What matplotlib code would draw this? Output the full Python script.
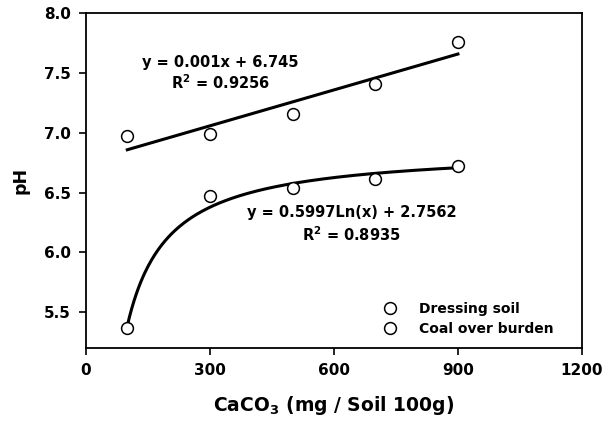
import numpy as np
import matplotlib
matplotlib.use("Agg")
import matplotlib.pyplot as plt

plt.rcParams['font.family'] = ['DejaVu Sans']
plt.rcParams['font.weight'] = 'bold'

# CaCO3 dose (mg / soil 100g) and measured pH
caco3 = [100, 300, 500, 700, 900]
ph_dressing = [6.97, 6.99, 7.16, 7.41, 7.76]
ph_coal = [5.37, 6.47, 6.54, 6.61, 6.72]

x_ticks = [0, 300, 600, 900, 1200]
y_ticks = [5.5, 6.0, 6.5, 7.0, 7.5, 8.0]

fig = plt.figure(figsize=(6.03, 4.23), dpi=100)
ax = fig.add_axes([0.1426, 0.177, 0.8224, 0.792])

x = np.array(caco3, dtype=float)
xs = np.linspace(100, 900, 300)

# linear trend for dressing soil
a, b = np.polyfit(x, ph_dressing, 1)
ax.plot(xs, a * xs + b, color='black', lw=2.2, zorder=2)

# saturating trend for coal over burden (the drawn curve follows
# y = A - B/x much closer than the printed ln fit)
k, d = np.polyfit(1.0 / x, ph_coal, 1)
ax.plot(xs, k / xs + d, color='black', lw=2.2, zorder=2)

ax.plot(caco3, ph_dressing, 'o', mfc='white', mec='black', mew=1.1,
        ms=8.5, label='Dressing soil', zorder=3)
ax.plot(caco3, ph_coal, 'o', mfc='white', mec='black', mew=1.1,
        ms=8.5, label='Coal over burden', zorder=3)

ax.text(325, 7.59, 'y = 0.001x + 6.745', ha='center', va='center',
        fontsize=10.5, fontweight='bold')
ax.text(325, 7.42, 'R$^\\mathbf{2}$ = 0.9256', ha='center', va='center',
        fontsize=10.5, fontweight='bold')
ax.text(643, 6.33, 'y = 0.5997Ln(x) + 2.7562', ha='center', va='center',
        fontsize=10.5, fontweight='bold')
ax.text(643, 6.15, 'R$^\\mathbf{2}$ = 0.8935', ha='center', va='center',
        fontsize=10.5, fontweight='bold')

leg = ax.legend(loc='lower right', frameon=False, fontsize=10,
                handletextpad=1.4, handlelength=1.5, borderaxespad=0.0,
                labelspacing=0.4, bbox_to_anchor=(0.955, 0.02))
for t in leg.get_texts():
    t.set_fontweight('bold')

ax.set_xlim(0, 1200)
ax.set_ylim(5.2, 8.0)
ax.set_xticks(x_ticks)
ax.set_yticks(y_ticks)
ax.set_yticklabels([f'{v:.1f}' for v in y_ticks])
ax.tick_params(direction='out', length=5, width=1.2, labelsize=11,
               top=False, right=False, pad=6)
for s in ax.spines.values():
    s.set_linewidth(1.3)

ax.set_xlabel('CaCO$_\\mathbf{3}$ (mg / Soil 100g)', fontsize=13.5,
              fontweight='bold', labelpad=11)
ax.set_ylabel('pH', fontsize=12.5, fontweight='bold', labelpad=10)

fig.savefig('out.png', dpi=100)
